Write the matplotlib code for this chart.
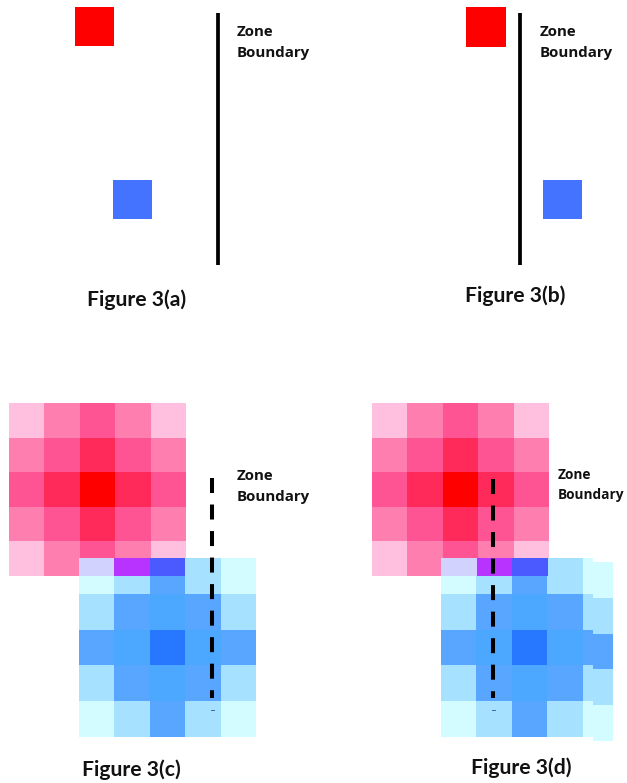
import numpy as np
import matplotlib.pyplot as plt
from matplotlib.colors import ListedColormap

plt.rcParams['lines.scale_dashes'] = False

# intensity levels (0 = faint edge, 4 = source cell) for the spread-out sources
red_levels = [[0, 1, 2, 1, 0],
              [1, 2, 3, 2, 1],
              [2, 3, 4, 3, 2],
              [1, 2, 3, 2, 1],
              [0, 1, 2, 1, 0]]
blue_levels = [[0, 1, 2, 1, 0],
               [1, 2, 3, 2, 1],
               [2, 3, 4, 3, 2],
               [1, 2, 3, 2, 1],
               [0, 1, 2, 1, 0]]
red_palette = ['#FFC0E0', '#FF7EB0', '#FF5494', '#FF2A5A', '#FF0000']
blue_palette = ['#D2FCFF', '#A6E2FF', '#58A6FF', '#4CA8FF', '#2878FF']
# cells where the red and blue grids overlap
overlap_colors = ['#D2D2FF', '#B833FF', '#4A5AFF']

panel_titles = ['Figure 3(a)', 'Figure 3(b)', 'Figure 3(c)', 'Figure 3(d)']
boundary_text = ['Zone', 'Boundary']

fig = plt.figure(figsize=(6.27, 7.83), dpi=100)
ax = fig.add_axes([0, 0, 1, 1])
ax.set_xlim(0, 627)
ax.set_ylim(783, 0)
ax.axis('off')

label_font = dict(family=['Lato', 'DejaVu Sans'], fontweight='bold', fontsize=15.2, color='#111111')
zone_font = dict(family=['Open Sans', 'DejaVu Sans'], fontweight='bold', color='#111111')


def square(x0, y0, size, color):
    ax.add_patch(plt.Rectangle((x0, y0), size, size, facecolor=color,
                               edgecolor='none'))


def grid(levels, palette, x0, x1, y0, y1, clip=None):
    im = ax.imshow(np.array(levels), cmap=ListedColormap(palette),
                   vmin=-0.5, vmax=len(palette) - 0.5,
                   extent=(x0, x1, y1, y0), interpolation='nearest', zorder=2)
    if clip is not None:
        im.set_clip_path(plt.Rectangle(clip[:2], clip[2], clip[3],
                                       transform=ax.transData))
    return im


def overlap(x0, x1, y0, y1):
    ax.imshow(np.array([[0, 1, 2]]), cmap=ListedColormap(overlap_colors),
              vmin=-0.5, vmax=2.5, extent=(x0, x1, y1, y0),
              interpolation='nearest', zorder=3)


def zone_label(x, y, size=10.8):
    ax.text(x, y, boundary_text[0], va='baseline', ha='left', fontsize=size, **zone_font)
    ax.text(x, y + 20.5, boundary_text[1], va='baseline', ha='left', fontsize=size, **zone_font)


# (a) separate sources, boundary to the right
square(75, 7, 39, '#FF0000')
square(113, 180, 39, '#4474FF')
ax.plot([218, 218], [13, 265], color='black', lw=2.7, solid_capstyle='butt')
zone_label(237, 36.5)
ax.text(137, 306, panel_titles[0], ha='center', va='baseline', **label_font)

# (b) sources on either side of the boundary
square(466, 7, 40, '#FF0000')
square(543, 180, 39, '#4474FF')
ax.plot([520, 520], [13, 265], color='black', lw=2.7, solid_capstyle='butt')
zone_label(540, 36.5)
ax.text(515, 302, panel_titles[1], ha='center', va='baseline', **label_font)

# (c) spread sources, boundary through the blue grid
grid(red_levels, red_palette, 9, 186, 403, 576)
grid(blue_levels, blue_palette, 79, 256, 558, 737)
overlap(79, 185, 558, 576)
ax.plot([212, 212], [478, 698], color='black', lw=2.9,
        linestyle=(0, (10.8, 8.3)), solid_capstyle='butt', dash_capstyle='butt', zorder=4)
ax.plot([210.5, 213.5], [710, 710], color='#2850A0', lw=0.6, zorder=4)
zone_label(237, 480)
ax.text(131, 776, panel_titles[2], ha='center', va='baseline', **label_font)

# (d) spread sources, boundary through both grids
grid(red_levels, red_palette, 371.5, 548.5, 403, 576)
grid(blue_levels, blue_palette, 441, 618, 558, 737, clip=(441, 558, 152, 179))
# last blue column pasted slightly lower
grid([row[-1:] for row in blue_levels], blue_palette, 593, 613, 562, 741)
overlap(441, 547.5, 558, 576)
ax.plot([493, 493], [479, 698], color='black', lw=2.9,
        linestyle=(0, (10.8, 8.3)), solid_capstyle='butt', dash_capstyle='butt', zorder=4)
ax.plot([491.5, 494.5], [710, 710], color='#2850A0', lw=0.6, zorder=4)
zone_label(558, 479, size=9.8)
ax.text(521, 774, panel_titles[3], ha='center', va='baseline', **label_font)

ax.set_aspect('auto')
fig.savefig('out.png', dpi=100)
